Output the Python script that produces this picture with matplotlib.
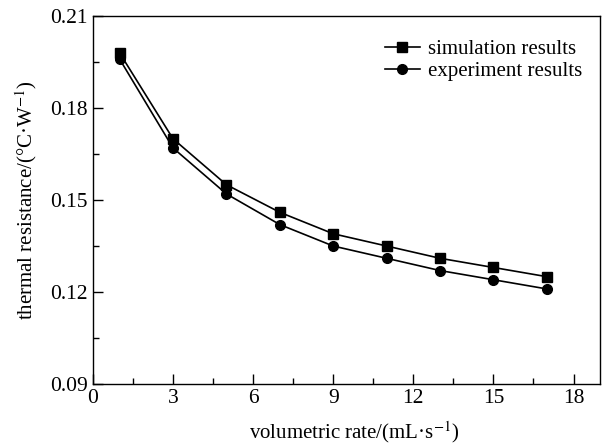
import matplotlib
matplotlib.use("Agg")
import matplotlib.pyplot as plt
from matplotlib.ticker import MultipleLocator, FormatStrFormatter

plt.rcParams['font.family'] = ['Liberation Serif', 'DejaVu Serif']
plt.rcParams['mathtext.fontset'] = 'stix'

flow_rate = [1, 3, 5, 7, 9, 11, 13, 15, 17]
simulation = [0.198, 0.170, 0.155, 0.146, 0.139, 0.135, 0.131, 0.128, 0.125]
experiment = [0.196, 0.167, 0.152, 0.142, 0.135, 0.131, 0.127, 0.124, 0.121]

fig = plt.figure(figsize=(6.15, 4.47), dpi=100)
ax = fig.add_axes([0.151, 0.141, 0.825, 0.823])

ax.plot(flow_rate, simulation, color='black', lw=1.2, marker='s', ms=6.5,
        label='simulation results')
ax.plot(flow_rate, experiment, color='black', lw=1.2, marker='o', ms=7,
        label='experiment results')

ax.set_xlim(0, 19)
ax.set_ylim(0.09, 0.21)
ax.xaxis.set_major_locator(MultipleLocator(3))
ax.xaxis.set_minor_locator(MultipleLocator(1.5))
ax.yaxis.set_major_locator(MultipleLocator(0.03))
ax.yaxis.set_minor_locator(MultipleLocator(0.015))
ax.yaxis.set_major_formatter(FormatStrFormatter('%.2f'))
ax.tick_params(which='both', direction='in', top=False, right=False, labelsize=15.5)
ax.tick_params(which='major', length=7, width=1)
ax.tick_params(which='minor', length=4, width=1)
for s in ax.spines.values():
    s.set_linewidth(1.0)

ax.set_xlabel('volumetric rate/(mL·s$^{-1}$)', fontsize=15)
ax.xaxis.set_label_coords(0.515, -0.095, transform=ax.transAxes)
ax.xaxis.label.set_va('top')
ax.set_ylabel('thermal resistance/(°C·W$^{-1}$)', fontsize=15, labelpad=8)

ax.legend(loc='upper right', bbox_to_anchor=(0.99, 0.97), frameon=False,
          fontsize=15, handlelength=1.7, handletextpad=0.4, labelspacing=0.1,
          borderaxespad=0.2)

fig.savefig('out.png', dpi=100)
